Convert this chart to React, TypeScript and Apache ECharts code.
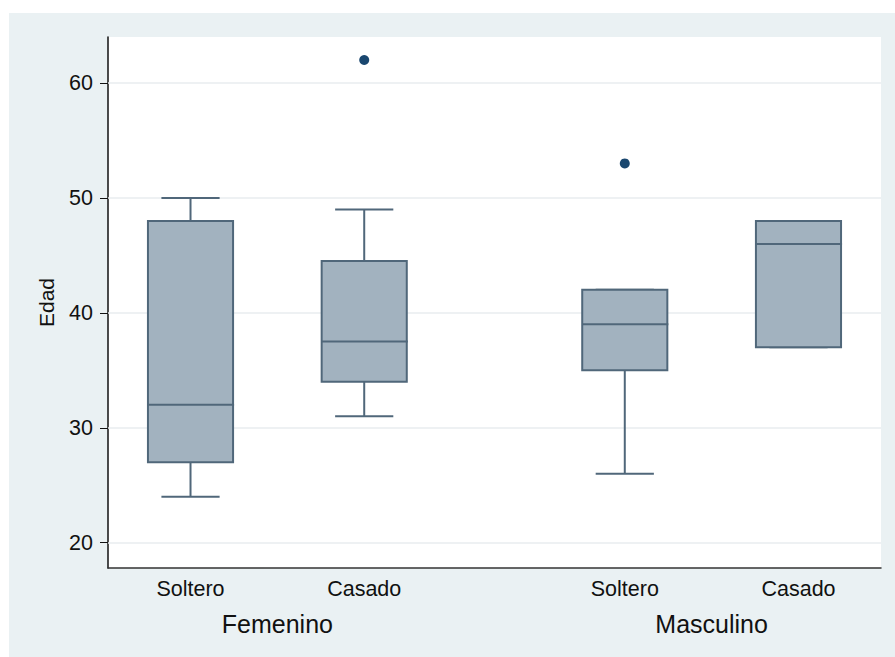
import React, { useEffect, useRef } from "react";
import * as echarts from "echarts";

// Positions of the four boxes on the x value scale (grouped by sex)
const positions = [0, 4, 10, 14];
const categoryLabels = ["Soltero", "Casado", "Soltero", "Casado"];
const groupPositions = [2, 12];
const groupLabels = ["Femenino", "Masculino"];

// Box statistics
const lowerWhisker = [24, 31, 26, 37];
const q1 = [27, 34, 35, 37];
const median = [32, 37.5, 39, 46];
const q3 = [48, 44.5, 42, 48];
const upperWhisker = [50, 49, 42, 48];

// Outliers: [position, value]
const outlierPos = [4, 10];
const outlierVal = [62, 53];

const yTicks = [20, 30, 40, 50, 60];

const FONT = "'Liberation Sans', Arial, Helvetica, sans-serif";
const BOX_HALF = 0.98;
const CAP_HALF = 0.67;
const STROKE = "#50677A";
const FILL = "#A2B2BF";

export default function App() {
  const ref = useRef<HTMLDivElement>(null);

  useEffect(() => {
    if (!ref.current) return;
    const chart = echarts.init(ref.current, undefined, { renderer: "svg" });

    const boxData = positions.map((p, i) => [
      p,
      lowerWhisker[i],
      q1[i],
      median[i],
      q3[i],
      upperWhisker[i],
    ]);
    const outlierData = outlierPos.map((p, i) => [p, outlierVal[i]]);

    const renderItem = (params: any, api: any) => {
      const x = api.value(0);
      const pMin = api.coord([x, api.value(1)]);
      const pQ1 = api.coord([x, api.value(2)]);
      const pMed = api.coord([x, api.value(3)]);
      const pQ3 = api.coord([x, api.value(4)]);
      const pMax = api.coord([x, api.value(5)]);
      const hb = api.size([BOX_HALF, 0])[0];
      const hc = api.size([CAP_HALF, 0])[0];
      const cx = pMed[0];
      const ls = { stroke: STROKE, lineWidth: 2, fill: "none" };
      return {
        type: "group",
        children: [
          { type: "line", shape: { x1: cx, y1: pQ3[1], x2: cx, y2: pMax[1] }, style: ls },
          { type: "line", shape: { x1: cx, y1: pQ1[1], x2: cx, y2: pMin[1] }, style: ls },
          { type: "line", shape: { x1: cx - hc, y1: pMax[1], x2: cx + hc, y2: pMax[1] }, style: ls },
          { type: "line", shape: { x1: cx - hc, y1: pMin[1], x2: cx + hc, y2: pMin[1] }, style: ls },
          {
            type: "rect",
            shape: { x: cx - hb, y: pQ3[1], width: 2 * hb, height: pQ1[1] - pQ3[1] },
            style: { fill: FILL, stroke: STROKE, lineWidth: 2 },
          },
          { type: "line", shape: { x1: cx - hb, y1: pMed[1], x2: cx + hb + 1, y2: pMed[1] }, style: ls },
        ],
      };
    };

    chart.setOption({
      animation: false,
      backgroundColor: "#EAF1F3",
      grid: {
        left: 99,
        top: 24,
        right: 14,
        bottom: 89,
        show: true,
        backgroundColor: "#FFFFFF",
        borderWidth: 0,
      },
      xAxis: [
        {
          type: "value",
          position: "bottom",
          min: -1.9,
          max: 15.9,
          axisLine: { show: true, onZero: false, lineStyle: { color: "#333333", width: 1.5 } },
          axisTick: { show: false },
          splitLine: { show: false },
          axisLabel: {
            customValues: positions,
            formatter: (v: number) => {
              const i = positions.indexOf(Math.round(v));
              return i >= 0 ? categoryLabels[i] : "";
            },
            fontSize: 21.5,
            fontFamily: FONT,
            color: "#111111",
            margin: 10,
          },
        },
        {
          type: "value",
          position: "bottom",
          min: -1.9,
          max: 15.9,
          axisLine: { show: false, onZero: false },
          axisTick: { show: false },
          splitLine: { show: false },
          axisLabel: {
            customValues: groupPositions,
            formatter: (v: number) => {
              const i = groupPositions.indexOf(Math.round(v));
              return i >= 0 ? groupLabels[i] : "";
            },
            fontSize: 25,
            fontFamily: FONT,
            color: "#111111",
            margin: 43,
          },
        },
      ],
      yAxis: {
        type: "value",
        min: 17.8,
        max: 64,
        name: "Edad",
        nameLocation: "middle",
        nameGap: 51,
        nameTextStyle: { fontSize: 21, fontFamily: FONT, color: "#111111" },
        axisLine: { show: true, onZero: false, lineStyle: { color: "#111111", width: 1.5 } },
        axisTick: {
          show: true,
          customValues: yTicks,
          length: 8,
          lineStyle: { color: "#111111", width: 1 },
        },
        axisLabel: {
          customValues: yTicks,
          fontSize: 21.5,
          fontFamily: FONT,
          color: "#111111",
          margin: 15,
        },
        splitLine: { show: false },
      },
      series: [
        {
          type: "custom",
          name: "box",
          xAxisIndex: 0,
          z: 3,
          renderItem,
          encode: { x: 0, y: [1, 2, 3, 4, 5] },
          data: boxData,
          markLine: {
            silent: true,
            z: 1,
            symbol: "none",
            label: { show: false },
            lineStyle: { color: "#E8EDEF", width: 1.5, type: "solid" },
            data: yTicks.map((t) => ({ yAxis: t })),
          },
        },
        {
          type: "scatter",
          name: "outliers",
          xAxisIndex: 0,
          z: 4,
          symbol: "circle",
          symbolSize: 10,
          itemStyle: { color: "#1A476F", opacity: 1 },
          data: outlierData,
        },
      ],
    });

    return () => chart.dispose();
  }, []);

  return (
    <div
      ref={ref}
      style={{ position: "fixed", left: 9, top: 13, width: 886, height: 644 }}
    />
  );
}
